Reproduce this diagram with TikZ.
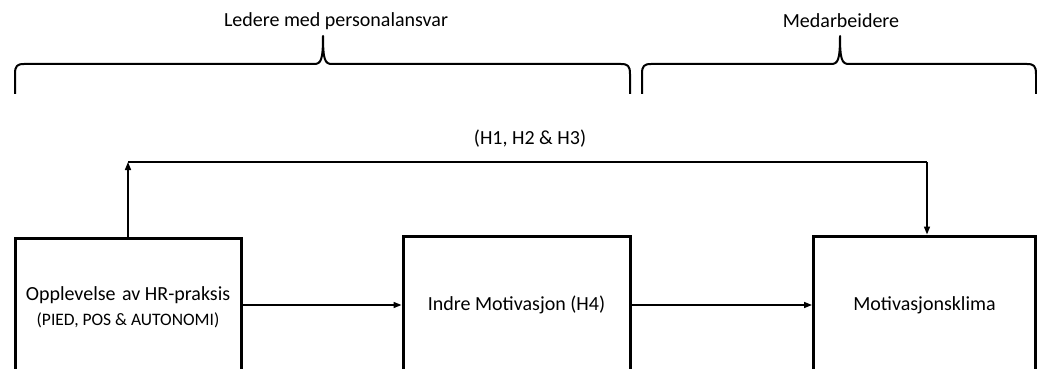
\documentclass[tikz,border=0pt]{standalone}
\usepackage{fontspec}
\setmainfont{Carlito}
\usetikzlibrary{arrows.meta}
\tikzset{
  boxnode/.style={draw, line width=3pt, inner sep=0pt, align=center, font=\fontsize{20}{24}\selectfont},
  arr/.style={line width=1.5pt, -{Triangle[length=8pt,width=6pt]}},
  plainline/.style={line width=1.5pt},
  bracepath/.style={line width=2pt, line join=round},
  lbl/.style={font=\fontsize{20}{24}\selectfont, inner sep=0pt}
}
\begin{document}
\begin{tikzpicture}[x=1pt,y=-1pt]
\useasboundingbox (0,0) rectangle (1037,369);
\clip (0,0) rectangle (1037,369);
% braces
\draw[bracepath] (15,94) -- (15,74) .. controls (15,66) and (17,64) .. (24,64) -- (314,64)
  .. controls (321,64) and (323,60) .. (323,36) .. controls (323,60) and (325,64) .. (332,64)
  -- (621,64) .. controls (628,64) and (630,66) .. (630,74) -- (630,94);
\draw[bracepath] (642,94) -- (642,74) .. controls (642,66) and (644,64) .. (651,64) -- (831,64)
  .. controls (838,64) and (840,60) .. (840,36) .. controls (840,60) and (842,64) .. (849,64)
  -- (1027,64) .. controls (1034,64) and (1036,66) .. (1036,74) -- (1036,94);
\node[lbl] (t1) at (336,21) {Ledere med personalansvar};
\node[lbl] (t2) at (841,21) {Medarbeidere};
% boxes
\node[boxnode, minimum width=226pt, minimum height=138pt] (box1) at (128,307)
  {Opplevelse\kern2pt\ av HR-praksis\\[1pt]{\fontsize{17.5}{21}\selectfont (PIED, POS \& AUTONOMI)}};
\node[boxnode, minimum width=227pt, minimum height=138pt] (box2) at (516.5,305) {Indre Motivasjon (H4)};
\node[boxnode, minimum width=222pt, minimum height=138pt] (box3) at (924.5,305) {Motivasjonsklima};
% connectors
\coordinate (c1) at (128,162);
\coordinate (c2) at (927,162);
\draw[arr] (box1.north) -- (c1);
\draw[plainline] (c1) -- (c2);
\draw[arr] (c2) -- (c2 |- box3.north);
\draw[arr] (box1.east |- box2.west) -- (box2.west);
\draw[arr] (box2.east) -- (box3.west);
\node[lbl] (h) at (530,139) {(H1, H2 \& H3)};
\end{tikzpicture}
\end{document}
